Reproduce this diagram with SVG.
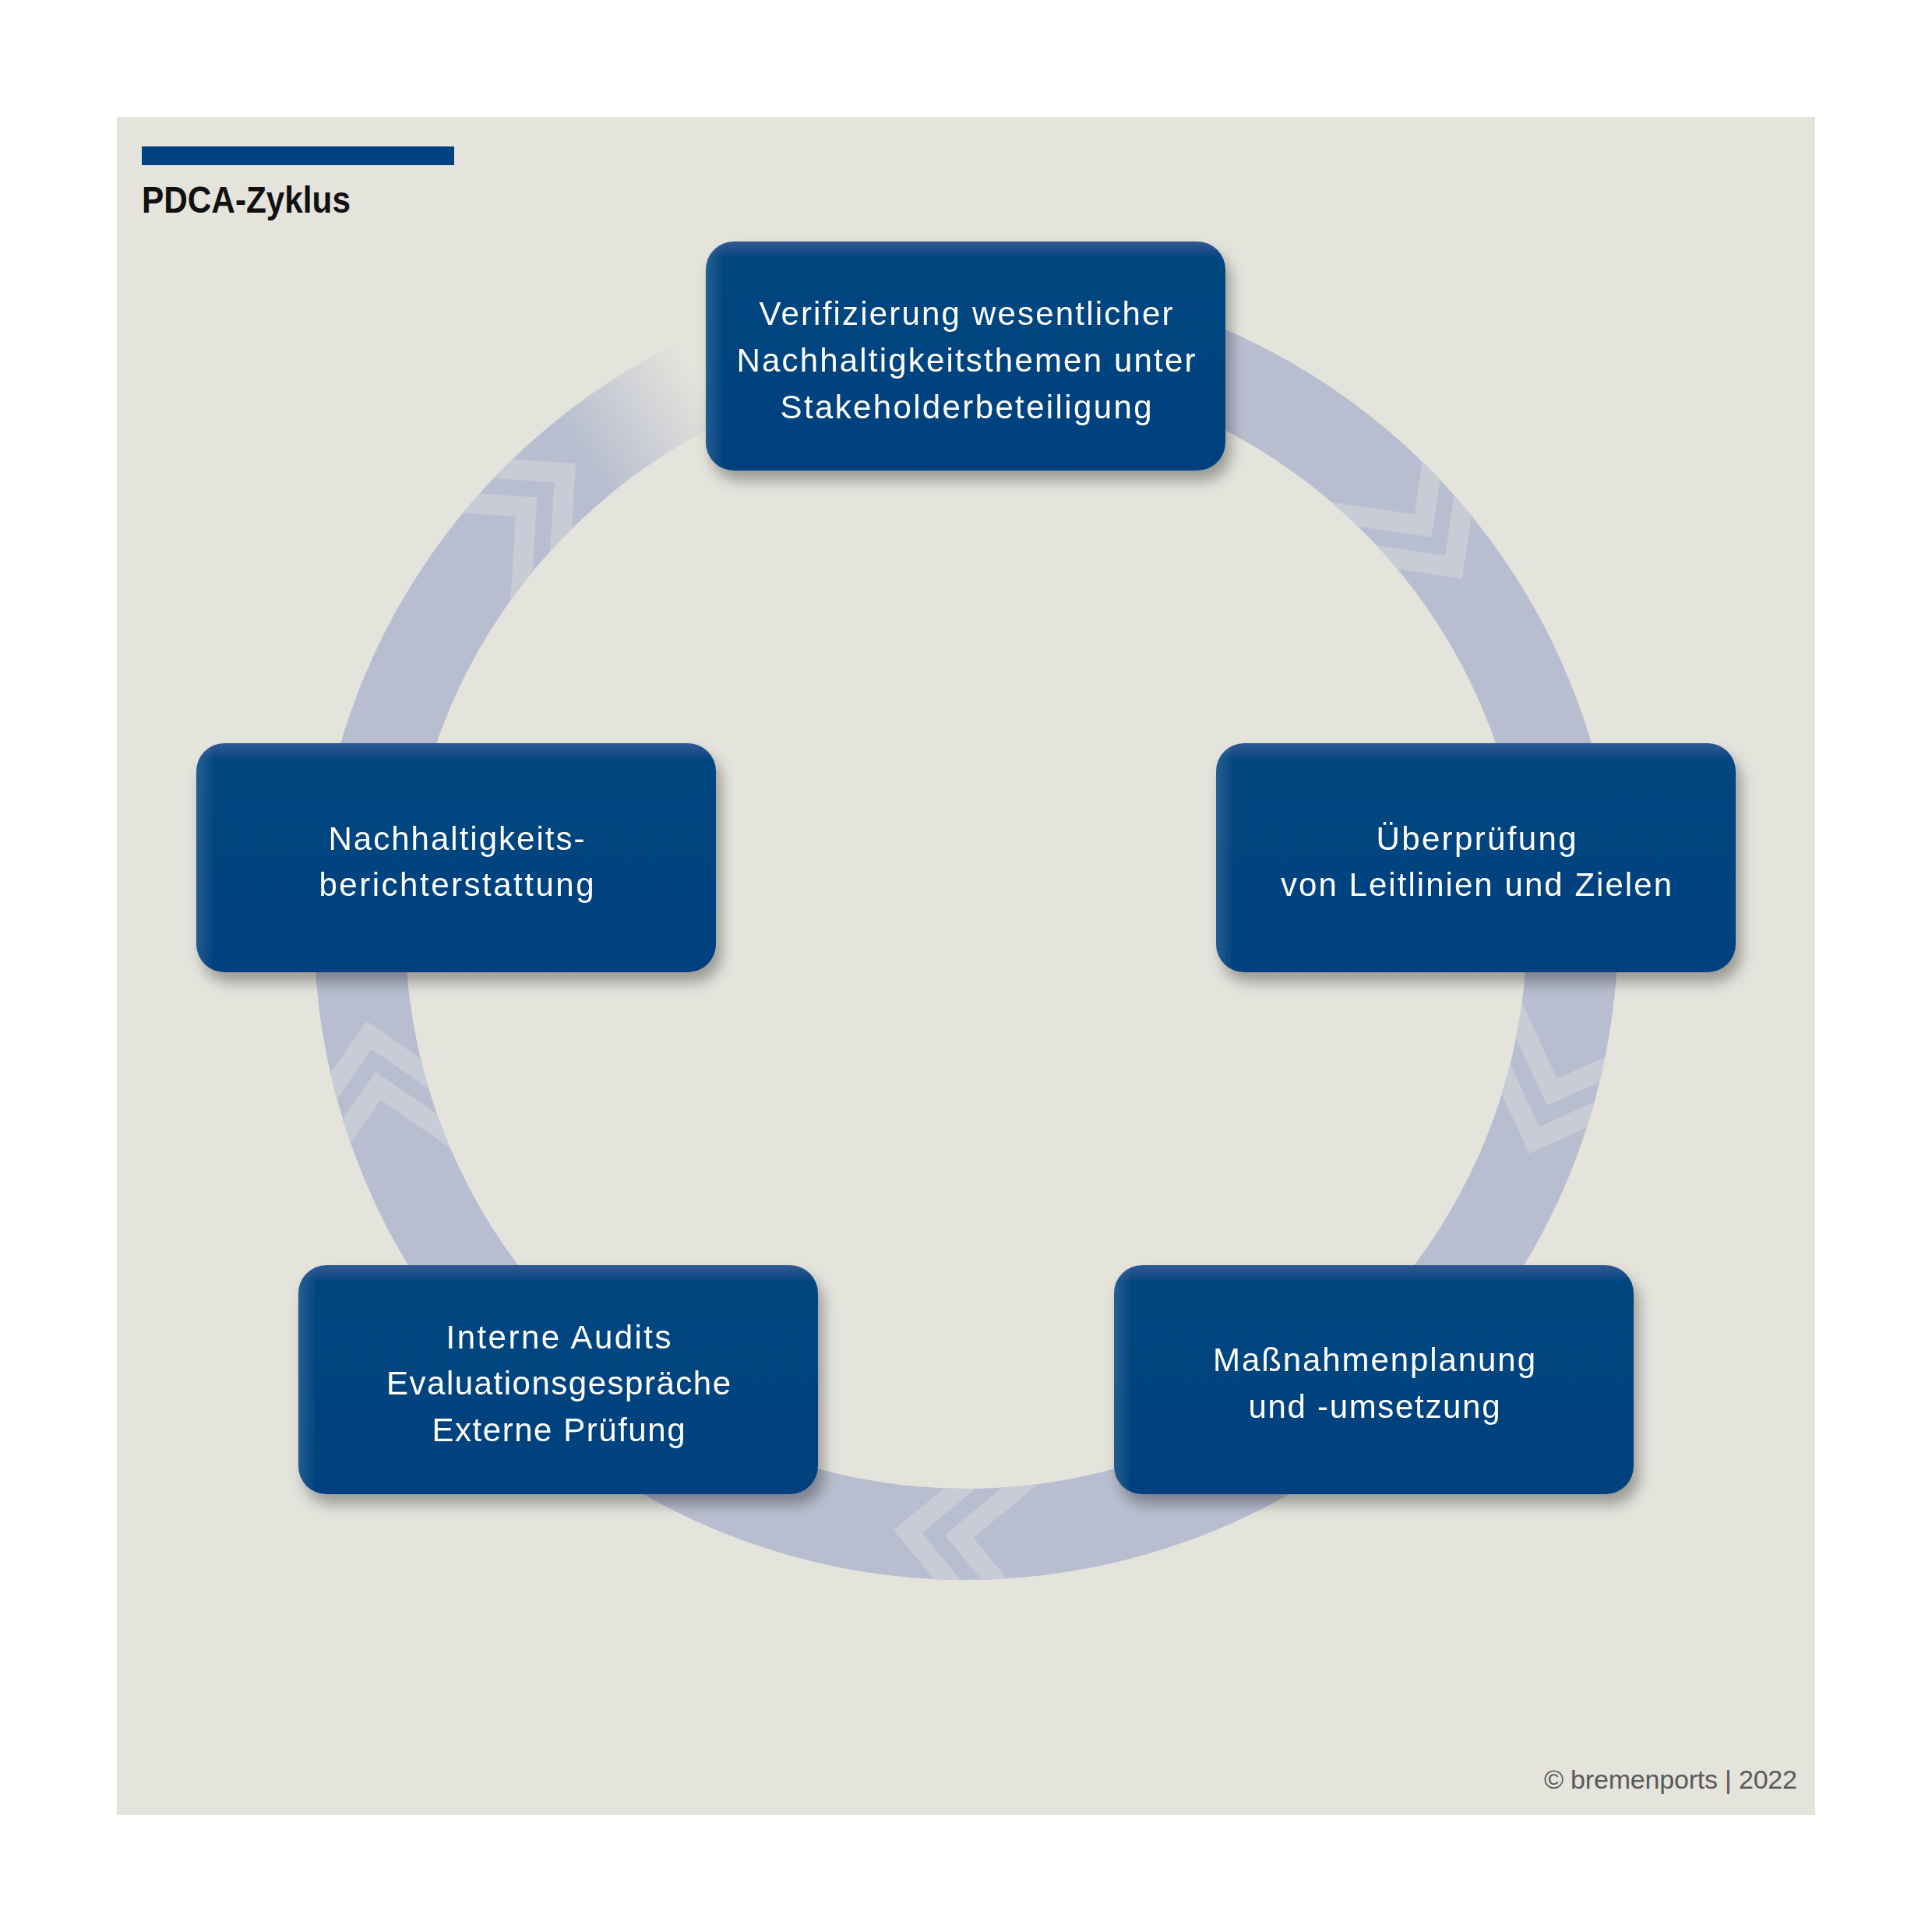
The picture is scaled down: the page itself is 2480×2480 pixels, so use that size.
<svg xmlns="http://www.w3.org/2000/svg" xmlns:xlink="http://www.w3.org/1999/xlink" width="2480" height="2480" viewBox="0 0 2480 2480">
  <style>
    .box { fill: url(#boxGrad); }
    .boxEdge { fill: url(#boxEdgeGrad); }
    .label { font-family: "Liberation Sans", Arial, sans-serif; font-size: 42px; fill: #ffffff; text-anchor: middle; }
    .title { font-family: "Liberation Sans", Arial, sans-serif; font-size: 48px; font-weight: bold; fill: #111111; }
    .credit { font-family: "Liberation Sans", Arial, sans-serif; font-size: 34px; fill: #5a5a5a; text-anchor: end; }
    .chev { fill: none; stroke: #c8ccd7; stroke-width: 26; stroke-linejoin: miter; stroke-miterlimit: 4; }
  </style>
  <defs>
    <linearGradient id="boxGrad" x1="0" y1="0" x2="0" y2="1">
      <stop offset="0" stop-color="#2f5a92"/>
      <stop offset="0.03" stop-color="#22508b"/>
      <stop offset="0.07" stop-color="#03467f"/>
      <stop offset="1" stop-color="#00417e"/>
    </linearGradient>
    <linearGradient id="boxEdgeGrad" x1="0" y1="0" x2="1" y2="0">
      <stop offset="0" stop-color="#ffffff" stop-opacity="0.14"/>
      <stop offset="0.035" stop-color="#ffffff" stop-opacity="0"/>
      <stop offset="1" stop-color="#ffffff" stop-opacity="0"/>
    </linearGradient>
    <linearGradient id="fadeGrad" gradientUnits="userSpaceOnUse" x1="750" y1="586" x2="899" y2="491">
      <stop offset="0" stop-color="#b8becf" stop-opacity="1"/>
      <stop offset="1" stop-color="#b8becf" stop-opacity="0"/>
    </linearGradient>
    <filter id="shadow" x="-10%" y="-15%" width="125%" height="140%">
      <feDropShadow dx="7" dy="13" stdDeviation="9" flood-color="#000000" flood-opacity="0.32"/>
    </filter>
    <clipPath id="ringClip">
      <path clip-rule="evenodd" d="M 2077 1191 A 837 837 0 1 0 403 1191 A 837 837 0 1 0 2077 1191 Z M 1960 1191 A 720 720 0 1 0 520 1191 A 720 720 0 1 0 1960 1191 Z"/>
    </clipPath>
    <g id="chev">
      <polyline class="chev" points="688,-90 778.5,0 869,-90"/>
      <polyline class="chev" points="688,-156 778.5,-66 869,-156"/>
    </g>
  </defs>

  <rect x="0" y="0" width="2480" height="2480" fill="#ffffff"/>
  <rect x="150" y="150" width="2180" height="2180" fill="#e4e3dc"/>

  <rect x="182" y="188" width="401" height="24" fill="#00417f"/>
  <text class="title" x="182" y="273" textLength="268" lengthAdjust="spacingAndGlyphs">PDCA-Zyklus</text>

  <g id="connectors">
    <!-- ring: solid part from 250deg clockwise to 229deg -->
    <path d="M 973.7 459.4 A 778.5 778.5 0 1 1 729.2 603.5" fill="none" stroke="#b8becf" stroke-width="117"/>
    <!-- faded part from 227deg to 250deg -->
    <path d="M 709.1 621.6 A 778.5 778.5 0 0 1 973.7 459.4" fill="none" stroke="url(#fadeGrad)" stroke-width="117"/>
    <g clip-path="url(#ringClip)">
      <use href="#chev" transform="translate(1240 1191) rotate(20.5)"/>
      <use href="#chev" transform="translate(1240 1191) rotate(95.5)"/>
      <use href="#chev" transform="translate(1240 1191) rotate(169.8)"/>
      <use href="#chev" transform="translate(1240 1191) rotate(228.6)"/>
      <use href="#chev" transform="translate(1240 1191) rotate(323.5)"/>
    </g>
  </g>

  <g id="node-top" filter="url(#shadow)">
    <rect class="box" x="906" y="310" width="667" height="294" rx="36" ry="36"/>
    <rect class="boxEdge" x="906" y="310" width="667" height="294" rx="36" ry="36"/>
    <text class="label" x="1240" y="417" textLength="531">Verifizierung wesentlicher</text>
    <text class="label" x="1240" y="477" textLength="589">Nachhaltigkeitsthemen unter</text>
    <text class="label" x="1240" y="537" textLength="477">Stakeholderbeteiligung</text>
  </g>

  <g id="node-right" filter="url(#shadow)">
    <rect class="box" x="1561" y="954" width="667" height="294" rx="36" ry="36"/>
    <rect class="boxEdge" x="1561" y="954" width="667" height="294" rx="36" ry="36"/>
    <text class="label" x="1895" y="1091" textLength="257">Überprüfung</text>
    <text class="label" x="1895" y="1150" textLength="502">von Leitlinien und Zielen</text>
  </g>

  <g id="node-bottom-right" filter="url(#shadow)">
    <rect class="box" x="1430" y="1624" width="667" height="294" rx="36" ry="36"/>
    <rect class="boxEdge" x="1430" y="1624" width="667" height="294" rx="36" ry="36"/>
    <text class="label" x="1764" y="1760" textLength="414">Maßnahmenplanung</text>
    <text class="label" x="1764" y="1820" textLength="323">und -umsetzung</text>
  </g>

  <g id="node-bottom-left" filter="url(#shadow)">
    <rect class="box" x="383" y="1624" width="667" height="294" rx="36" ry="36"/>
    <rect class="boxEdge" x="383" y="1624" width="667" height="294" rx="36" ry="36"/>
    <text class="label" x="717" y="1731" textLength="289">Interne Audits</text>
    <text class="label" x="717" y="1790" textLength="442">Evaluationsgespräche</text>
    <text class="label" x="717" y="1850" textLength="325">Externe Prüfung</text>
  </g>

  <g id="node-left" filter="url(#shadow)">
    <rect class="box" x="252" y="954" width="667" height="294" rx="36" ry="36"/>
    <rect class="boxEdge" x="252" y="954" width="667" height="294" rx="36" ry="36"/>
    <text class="label" x="586" y="1091" textLength="329">Nachhaltigkeits-</text>
    <text class="label" x="586" y="1150" textLength="353">berichterstattung</text>
  </g>

  <text class="credit" x="2307" y="2296" textLength="325">© bremenports | 2022</text>
</svg>
